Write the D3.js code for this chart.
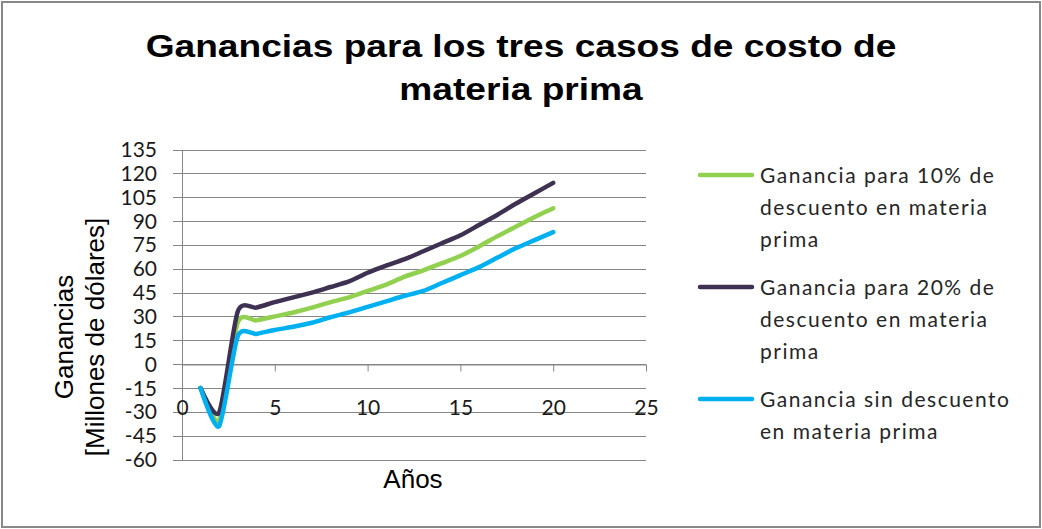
<!DOCTYPE html>
<html>
<head>
<meta charset="utf-8">
<script src="https://cdn.jsdelivr.net/npm/d3@7/dist/d3.min.js"></script>
<style>
  body { margin: 0; background: #fff; }
  svg { display: block; }
  .title { font-family: "Liberation Sans", Arial, sans-serif; font-weight: bold; font-size: 32px; fill: #000; }
  .axis-title { font-family: "Liberation Sans", Arial, sans-serif; font-size: 26px; fill: #000; }
  .tick-label { font-family: Lato, sans-serif; font-size: 21px; fill: #1a1a1a; }
  .legend-label { font-family: Lato, sans-serif; font-size: 21px; fill: #262626; letter-spacing: 1.5px; }
  .grid line { stroke: #868686; stroke-width: 1; }
  .x-axis path, .x-axis line { stroke: #868686; }
</style>
</head>
<body>
<div id="chart"></div>
<script>
// data
const years = [1, 2, 3, 4, 5, 6, 7, 8, 9, 10, 11, 12, 13, 14, 15, 16, 17, 18, 19, 20];
const gananciaDiez = [-15, -35.5, 26, 27.5, 30, 32.5, 35.5, 39, 42, 46, 50, 55, 59, 63.5, 68, 74, 80.5, 86.5, 92.5, 98];
const gananciaVeinte = [-15, -30.5, 33, 35.5, 39, 42, 45, 48.5, 52, 57.5, 62, 66, 71, 76, 81, 87.5, 94, 101, 107.5, 114];
const gananciaSin = [-15, -39, 17.5, 19, 21.5, 23.5, 26, 29.5, 32.5, 36, 39.5, 43, 46, 51, 56, 61, 67, 73, 78, 83];

const seriesLabels = [
  ["Ganancia para 10% de", "descuento en materia", "prima"],
  ["Ganancia para 20% de", "descuento en materia", "prima"],
  ["Ganancia sin descuento", "en materia prima"]
];
const seriesColors = ["#92d050", "#3f3151", "#00b0f0"];

const xTicks = [0, 5, 10, 15, 20, 25];
const yTicks = [-60, -45, -30, -15, 0, 15, 30, 45, 60, 75, 90, 105, 120, 135];
const titleLines = ["Ganancias para los tres casos de costo de", "materia prima"];
const yTitleLines = ["Ganancias", "[Millones de dólares]"];

const width = 1042, height = 529;

const svg = d3.select("#chart").append("svg")
  .attr("width", width)
  .attr("height", height);

// outer frame
svg.append("rect")
  .attr("x", 2).attr("y", 2)
  .attr("width", width - 4).attr("height", height - 4)
  .attr("fill", "#fff")
  .attr("stroke", "#888")
  .attr("stroke-width", 2);

const x = d3.scaleLinear().domain([0, 25]).range([182, 646]);
const y = d3.scaleLinear().domain([-60, 135]).range([459.5, 149.5]);
const crisp = v => Math.round(v) + 0.5;

// horizontal gridlines, tick marks included on the left
svg.append("g").attr("class", "grid")
  .selectAll("line")
  .data(yTicks).enter().append("line")
  .attr("x1", x(0) - 9)
  .attr("x2", x(25))
  .attr("y1", d => crisp(y(d)))
  .attr("y2", d => crisp(y(d)));

// y axis line
svg.append("line")
  .attr("x1", crisp(x(0))).attr("x2", crisp(x(0)))
  .attr("y1", crisp(y(135))).attr("y2", crisp(y(-60)))
  .attr("stroke", "#868686");

svg.append("g")
  .selectAll("text")
  .data(yTicks).enter().append("text")
  .attr("class", "tick-label")
  .attr("x", x(0) - 25)
  .attr("y", d => y(d))
  .attr("dy", "0.36em")
  .attr("text-anchor", "end")
  .text(d => d);

// x axis sits on zero
const xAxis = svg.append("g")
  .attr("class", "x-axis")
  .attr("transform", "translate(0," + crisp(y(0)) + ")")
  .call(d3.axisBottom(x).tickValues(xTicks).tickSize(7).tickSizeOuter(0).tickPadding(29));
xAxis.attr("font-family", null).attr("font-size", null);
xAxis.selectAll("text").attr("class", "tick-label").attr("fill", null);
xAxis.selectAll("line").attr("stroke", "#868686");
xAxis.select(".domain").attr("stroke", "#868686");

// series
const allSeries = [gananciaDiez, gananciaVeinte, gananciaSin];
const line = d3.line()
  .x((d, i) => x(years[i]))
  .y(d => y(d))
  .curve(d3.curveCardinal.tension(0.3));

svg.append("g")
  .selectAll("path")
  .data(allSeries).enter().append("path")
  .attr("d", line)
  .attr("fill", "none")
  .attr("stroke", (d, i) => seriesColors[i])
  .attr("stroke-width", 4.5)
  .attr("stroke-linecap", "round")
  .attr("stroke-linejoin", "round");

// title
svg.append("g")
  .selectAll("text")
  .data(titleLines).enter().append("text")
  .attr("class", "title")
  .attr("transform", (d, i) => "translate(521," + (57 + i * 43) + ") scale(1.16,1)")
  .attr("text-anchor", "middle")
  .text(d => d);

// axis titles
svg.append("text")
  .attr("class", "axis-title")
  .attr("x", 413).attr("y", 488)
  .attr("text-anchor", "middle")
  .text("Años");

svg.append("g")
  .selectAll("text")
  .data(yTitleLines).enter().append("text")
  .attr("class", "axis-title")
  .attr("transform", (d, i) => "translate(" + (73 + i * 31) + ",337) rotate(-90)")
  .attr("text-anchor", "middle")
  .text(d => d);

// legend
const legend = svg.append("g").attr("transform", "translate(700,0)");
const entries = legend.selectAll("g")
  .data(seriesLabels).enter().append("g")
  .attr("transform", (d, i) => "translate(0," + (175 + i * 112) + ")");

entries.append("line")
  .attr("x1", 0).attr("x2", 52)
  .attr("y1", 0).attr("y2", 0)
  .attr("stroke", (d, i) => seriesColors[i])
  .attr("stroke-width", 4.5)
  .attr("stroke-linecap", "round");

entries.selectAll("text")
  .data(d => d).enter().append("text")
  .attr("class", "legend-label")
  .attr("x", 60)
  .attr("y", (d, i) => 8 + i * 32)
  .text(d => d);
</script>
</body>
</html>
